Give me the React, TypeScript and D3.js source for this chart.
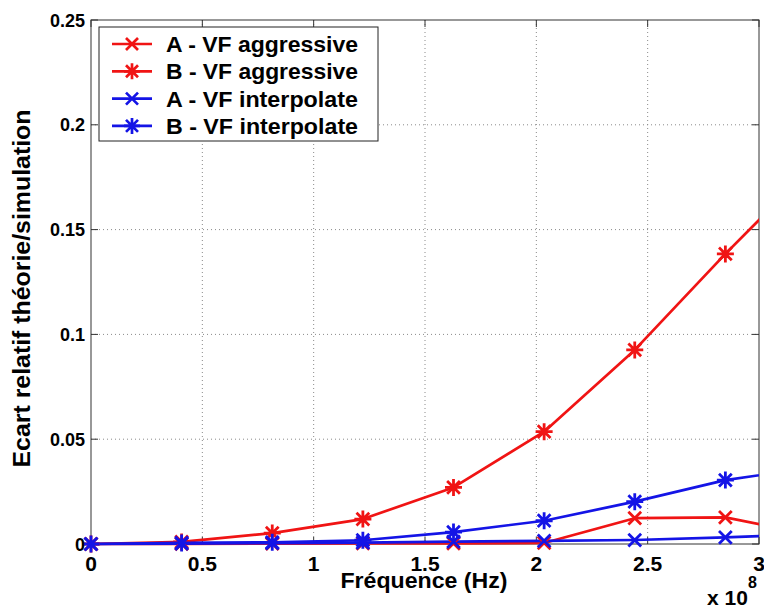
import React from "react";
import * as d3 from "d3";

const freqs = [0, 0.407e8, 0.814e8, 1.221e8, 1.628e8, 2.035e8, 2.442e8, 2.849e8, 3.256e8];
const aAggressive = [0, 0.0001, 0.0002, 0.0003, 0.0003, 0.0005, 0.0123, 0.0127, 0.0041];
const bAggressive = [0, 0.001, 0.0052, 0.0119, 0.027, 0.0536, 0.0926, 0.1384, 0.182];
const aInterpolate = [0, 0.0002, 0.0004, 0.0007, 0.0011, 0.0015, 0.0019, 0.0032, 0.0048];
const bInterpolate = [0, 0.0005, 0.0008, 0.0018, 0.0057, 0.0111, 0.0202, 0.0305, 0.0367];

const xTicks = [0, 0.5e8, 1e8, 1.5e8, 2e8, 2.5e8, 3e8];
const xTickLabels = ["0", "0.5", "1", "1.5", "2", "2.5", "3"];
const yTicks = [0, 0.05, 0.1, 0.15, 0.2, 0.25];
const yTickLabels = ["0", "0.05", "0.1", "0.15", "0.2", "0.25"];

const seriesNames = ["A - VF aggressive", "B - VF aggressive", "A - VF interpolate", "B - VF interpolate"];
const seriesColors = ["#f01414", "#f01414", "#1414e6", "#1414e6"];
const seriesMarkers = ["x", "star", "x", "star"];

const W = 764;
const H = 613;
const L = 91, R = 759, T = 20, B = 544;
const FONT = "'Liberation Sans', Arial, Helvetica, sans-serif";

function markerPath(type: string, cx: number, cy: number, r: number) {
  const d = r * 0.75;
  if (type === "x") {
    return `M${cx - d},${cy - d}L${cx + d},${cy + d}M${cx - d},${cy + d}L${cx + d},${cy - d}`;
  }
  return `M${cx - d},${cy - d}L${cx + d},${cy + d}M${cx - d},${cy + d}L${cx + d},${cy - d}M${cx},${cy - r}L${cx},${cy + r}M${cx - r},${cy}L${cx + r},${cy}`;
}

export default function App() {
  const x = d3.scaleLinear().domain([0, 3e8]).range([L, R]);
  const y = d3.scaleLinear().domain([0, 0.25]).range([B, T]);
  const data = [aAggressive, bAggressive, aInterpolate, bInterpolate];
  const line = d3
    .line<number>()
    .x((_, i) => x(freqs[i]))
    .y((v) => y(v));

  return (
    <svg
      width={W}
      height={H}
      style={{ position: "absolute", left: 0, top: 0, background: "#fff" }}
      fontFamily={FONT}
    >
      <defs>
        <clipPath id="plotclip">
          <rect x={L} y={T - 8} width={R - L} height={B - T + 16} />
        </clipPath>
        <clipPath id="plotclip2">
          <rect x={L - 10} y={T} width={R - L + 10} height={B - T + 12} />
        </clipPath>
      </defs>
      <rect x={0} y={0} width={W} height={H} fill="#fff" />
      {xTicks.slice(1, -1).map((t, i) => (
        <line key={"gx" + i} x1={x(t)} x2={x(t)} y1={T} y2={B} stroke="#8a8a8a" strokeWidth={1} strokeDasharray="1,3" />
      ))}
      {yTicks.slice(1, -1).map((t, i) => (
        <line key={"gy" + i} x1={L} x2={R} y1={y(t)} y2={y(t)} stroke="#8a8a8a" strokeWidth={1} strokeDasharray="1,3" />
      ))}
      {xTicks.map((t, i) => (
        <g key={"tx" + i}>
          <line x1={x(t)} x2={x(t)} y1={B} y2={B - 7} stroke="#333" />
          <line x1={x(t)} x2={x(t)} y1={T} y2={T + 7} stroke="#333" />
        </g>
      ))}
      {yTicks.map((t, i) => (
        <g key={"ty" + i}>
          <line x1={L} x2={L + 7} y1={y(t)} y2={y(t)} stroke="#333" />
          <line x1={R} x2={R - 7} y1={y(t)} y2={y(t)} stroke="#333" />
        </g>
      ))}
      <rect x={L} y={T} width={R - L} height={B - T} fill="none" stroke="#333" strokeWidth={1} />
      <g clipPath="url(#plotclip)">
        {data.map((s, k) => (
          <path key={"l" + k} d={line(s) || ""} fill="none" stroke={seriesColors[k]} strokeWidth={2.7} strokeLinejoin="round" />
        ))}
      </g>
      <g clipPath="url(#plotclip2)">
        {data.map((s, k) => (
          <g key={"m" + k}>
            {s.map((v, i) =>
              freqs[i] <= 3e8 ? (
                <path
                  key={i}
                  d={markerPath(seriesMarkers[k], x(freqs[i]), y(v), 8.5)}
                  fill="none"
                  stroke={seriesColors[k]}
                  strokeWidth={2.8}
                />
              ) : null
            )}
          </g>
        ))}
      </g>
      {xTicks.map((t, i) => (
        <text key={"xl" + i} x={x(t)} y={571} textAnchor="middle" fontSize={21} fontWeight="bold" fill="#000">
          {xTickLabels[i]}
        </text>
      ))}
      {yTicks.map((t, i) => (
        <text key={"yl" + i} x={85} y={y(t) + 6.5} textAnchor="end" fontSize={18} fontWeight="bold" fill="#000">
          {yTickLabels[i]}
        </text>
      ))}
      <text x={424} y={588} textAnchor="middle" fontSize={22} fontWeight="bold" textLength={167} lengthAdjust="spacingAndGlyphs">
        Fréquence (Hz)
      </text>
      <text
        transform={`translate(30,${(107 + 470) / 2}) rotate(-90)`}
        textAnchor="middle"
        fontSize={23}
        fontWeight="bold"
        textLength={358}
        lengthAdjust="spacingAndGlyphs"
      >
        Ecart relatif théorie/simulation
      </text>
      <text x={707} y={605} fontSize={21} fontWeight="bold">
        x 10
      </text>
      <text x={748} y={588} fontSize={16} fontWeight="bold">
        8
      </text>
      <rect x={99} y={27} width={279} height={114} fill="#fff" stroke="#222" strokeWidth={1} />
      {seriesNames.map((n, k) => {
        const cy = 44 + k * 27.3;
        return (
          <g key={"lg" + k}>
            <line x1={112} x2={152} y1={cy} y2={cy} stroke={seriesColors[k]} strokeWidth={2.7} />
            <path d={markerPath(seriesMarkers[k], 132, cy, 8)} fill="none" stroke={seriesColors[k]} strokeWidth={2.7} />
            <text x={166} y={cy + 8} fontSize={22} fontWeight="bold" textLength={192} lengthAdjust="spacingAndGlyphs">
              {n}
            </text>
          </g>
        );
      })}
    </svg>
  );
}
